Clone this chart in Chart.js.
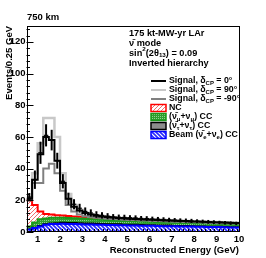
<!DOCTYPE html>
<html>
<head>
<meta charset="utf-8">
<script src="https://cdn.jsdelivr.net/npm/chart.js@4.4.0/dist/chart.umd.min.js"></script>
<style>
  html, body { margin: 0; padding: 0; background: #fff; }
  #wrap { width: 266px; height: 258px; }
</style>
</head>
<body>
<div id="wrap"><canvas id="chart" width="266" height="258"></canvas></div>
<script>
// bin edges, GeV (0.25 GeV bins)
var binEdges = [0.5, 0.75, 1, 1.25, 1.5, 1.75, 2, 2.25, 2.5, 2.75, 3, 3.25, 3.5, 3.75, 4, 4.25, 4.5, 4.75,
  5, 5.25, 5.5, 5.75, 6, 6.25, 6.5, 6.75, 7, 7.25, 7.5, 7.75, 8, 8.25, 8.5, 8.75, 9, 9.25, 9.5, 9.75, 10];
var xTicks = [1, 2, 3, 4, 5, 6, 7, 8, 9, 10];
var yTicks = [0, 20, 40, 60, 80, 100, 120];

// signal + background totals
var sigCp0 = [21, 33, 49, 60, 58, 45, 31, 21, 16, 13.5, 12, 11, 10.3, 9.8, 9.4, 9.1, 8.8, 8.6, 8.4, 8.2,
  8.0, 7.9, 7.7, 7.6, 7.4, 7.3, 7.1, 7.0, 6.9, 6.7, 6.6, 6.5, 6.3, 6.2, 6.1, 6.0, 5.8, 5.7];
var sigCp90 = [22, 37, 56, 72, 72, 60, 37, 24, 17, 14, 12.2, 11.2, 10.5, 10, 9.6, 9.2, 8.9, 8.7, 8.5, 8.3,
  8.1, 8.0, 7.8, 7.7, 7.5, 7.4, 7.2, 7.1, 7.0, 6.8, 6.7, 6.6, 6.4, 6.3, 6.2, 6.1, 5.9, 5.8];
var sigCpM90 = [20, 31, 31, 40, 43, 37, 26, 17, 13, 11, 10, 9.5, 9, 8.7, 8.4, 8.2, 8.0, 7.8, 7.6, 7.5,
  7.3, 7.2, 7.0, 6.9, 6.8, 6.7, 6.5, 6.4, 6.3, 6.2, 6.1, 6.0, 5.8, 5.7, 5.6, 5.5, 5.4, 5.3];

// fake data for delta_CP = 0, with errors
var dataPts = [22, 33, 50, 61, 58, 45, 32, 21, 17.5, 15, 13, 12, 11, 10.5, 10, 9.5, 9.3, 9.2, 9, 8.9,
  8.6, 8.5, 8.2, 8.1, 7.9, 7.6, 7.5, 7.3, 7.2, 7, 6.8, 6.6, 6.4, 6.2, 6, 5.8, 5.6, 5.4];
var dataErr = [2.6, 5.8, 7, 7, 6.5, 5, 4.5, 3.8, 3.2, 2.8, 2.5, 2.3, 2.1, 2, 1.9, 1.8, 1.7, 1.7, 1.6, 1.6,
  1.5, 1.5, 1.5, 1.4, 1.4, 1.4, 1.3, 1.3, 1.3, 1.3, 1.2, 1.2, 1.2, 1.2, 1.1, 1.1, 1.1, 1.1];

// backgrounds (stacked)
var bkgBeam = [1.5, 2.5, 3.5, 4.5, 5, 5, 5.2, 5, 5, 4.9, 4.8, 4.7, 4.6, 4.5, 4.4, 4.4, 4.3, 4.2, 4.1, 4.1,
  4.0, 3.9, 3.9, 3.8, 3.7, 3.7, 3.6, 3.5, 3.5, 3.4, 3.3, 3.3, 3.2, 3.1, 3.1, 3.0, 2.9, 2.9];
var bkgTau = [0.2, 0.3, 0.4, 0.5, 0.6, 0.7, 0.8, 0.8, 0.8, 0.8, 0.8, 0.8, 0.8, 0.7, 0.7, 0.7, 0.7, 0.6, 0.6, 0.6,
  0.6, 0.5, 0.5, 0.5, 0.5, 0.5, 0.4, 0.4, 0.4, 0.4, 0.4, 0.4, 0.3, 0.3, 0.3, 0.3, 0.3, 0.3];
var bkgNumu = [1.8, 3.2, 4.1, 3.5, 3.4, 3.3, 3.0, 3.0, 2.8, 2.8, 2.7, 2.6, 2.5, 2.5, 2.4, 2.2, 2.1, 2.2, 2.2, 2.1,
  2.0, 2.1, 2.0, 2.0, 2.0, 1.9, 2.0, 2.0, 1.9, 1.9, 1.9, 1.8, 1.9, 1.9, 1.8, 1.8, 1.8, 1.7];
var bkgNC = [16.5, 11, 5, 2.8, 2, 1.6, 1.4, 1.3, 1.2, 1.1, 1.0, 0.9, 0.9, 0.8, 0.8, 0.8, 0.7, 0.7, 0.7, 0.7,
  0.6, 0.6, 0.6, 0.6, 0.6, 0.5, 0.5, 0.5, 0.5, 0.5, 0.5, 0.5, 0.4, 0.4, 0.4, 0.4, 0.4, 0.4];

var FONT = '"Liberation Sans", Arial, Helvetica, sans-serif';
var NUBAR = '\u03BD\u0304';

function addUp(a, b) { return a.map(function (v, i) { return v + b[i]; }); }
var topBeam = bkgBeam.slice();
var topTau = addUp(topBeam, bkgTau);
var topNumu = addUp(topTau, bkgNumu);
var topNC = addUp(topNumu, bkgNC);

function steps(vals) {
  var pts = vals.map(function (v, i) { return { x: binEdges[i], y: v }; });
  pts.push({ x: binEdges[binEdges.length - 1], y: vals[vals.length - 1] });
  return pts;
}
function centers(vals) {
  return vals.map(function (v, i) { return { x: (binEdges[i] + binEdges[i + 1]) / 2, y: v }; });
}

function hatch(color, bg, dir, gap, lw) {
  var c = document.createElement('canvas');
  c.width = c.height = gap;
  var g = c.getContext('2d');
  if (bg) { g.fillStyle = bg; g.fillRect(0, 0, gap, gap); }
  g.strokeStyle = color; g.lineWidth = lw;
  g.beginPath();
  if (dir > 0) {
    g.moveTo(0, gap); g.lineTo(gap, 0);
    g.moveTo(-1, 1); g.lineTo(1, -1);
    g.moveTo(gap - 1, gap + 1); g.lineTo(gap + 1, gap - 1);
  } else {
    g.moveTo(0, 0); g.lineTo(gap, gap);
    g.moveTo(gap - 1, -1); g.lineTo(gap + 1, 1);
    g.moveTo(-1, gap - 1); g.lineTo(1, gap + 1);
  }
  g.stroke();
  return g.createPattern(c, 'repeat');
}
function stipple() {
  var c = document.createElement('canvas');
  c.width = c.height = 2;
  var g = c.getContext('2d');
  g.fillStyle = '#2f9e2f'; g.fillRect(0, 0, 2, 2);
  g.fillStyle = '#8fd08f'; g.fillRect(0, 0, 1, 1);
  return g.createPattern(c, 'repeat');
}

var ctx = document.getElementById('chart').getContext('2d');
var ncFill = hatch('#f26d6d', '#ffffff', 1, 4, 1);
var beamFill = hatch('#2a2aff', '#ffffff', -1, 4, 1.6);
var numuFill = stipple();

function histLine(label, vals, color, width, fill, order) {
  return {
    label: label, data: steps(vals), stepped: 'before', borderColor: color, borderWidth: width,
    pointRadius: 0, fill: fill ? 'origin' : false, backgroundColor: fill || 'transparent', order: order
  };
}

// rich text: parts = [[text, 'n'|'sub'|'sup'], ...]
function rich(c, x, y, parts, size) {
  parts.forEach(function (p) {
    var s = p[1] === 'n' ? size : size * 0.68;
    var dy = p[1] === 'sub' ? size * 0.3 : (p[1] === 'sup' ? -size * 0.38 : 0);
    c.font = 'bold ' + s + 'px ' + FONT;
    c.fillText(p[0], x, y + dy);
    x += c.measureText(p[0]).width;
  });
}

var decorPlugin = {
  id: 'decor',
  afterDatasetsDraw: function (chart) {
    var c = chart.ctx, meta = chart.getDatasetMeta(0);
    var xs = chart.scales.x, ys = chart.scales.y;
    var hw = (xs.getPixelForValue(binEdges[1]) - xs.getPixelForValue(binEdges[0])) * 0.4;
    c.save();
    c.strokeStyle = '#000';
    meta.data.forEach(function (pt, i) {
      var yt = ys.getPixelForValue(dataPts[i] + dataErr[i]);
      var yb = ys.getPixelForValue(dataPts[i] - dataErr[i]);
      c.lineWidth = 2;
      c.beginPath(); c.moveTo(pt.x, yt); c.lineTo(pt.x, yb); c.stroke();
      c.lineWidth = 1.2;
      c.beginPath(); c.moveTo(pt.x - hw, pt.y); c.lineTo(pt.x + hw, pt.y); c.stroke();
    });
    c.restore();
  },
  afterDraw: function (chart) {
    var c = chart.ctx, a = chart.chartArea;
    var xs = chart.scales.x, ys = chart.scales.y;
    c.save();
    // frame
    c.strokeStyle = '#000'; c.lineWidth = 1;
    c.strokeRect(Math.round(a.left) + 0.5, Math.round(a.top) + 0.5,
      Math.round(a.right - a.left) - 1, Math.round(a.bottom - a.top) - 1);
    // inward ticks
    c.beginPath();
    for (var v = 0; v <= 130; v += 4) {
      var py = Math.round(ys.getPixelForValue(v)) + 0.5;
      var len = (v % 20 === 0) ? 7 : 3.5;
      c.moveTo(a.left, py); c.lineTo(a.left + len, py);
    }
    for (var k = 5; k <= 100; k += 2) {
      var xv = k / 10;
      var px = Math.round(xs.getPixelForValue(xv)) + 0.5;
      var l2 = (k % 10 === 0) ? 6 : 3;
      c.moveTo(px, a.bottom); c.lineTo(px, a.bottom - l2);
    }
    c.stroke();

    c.fillStyle = '#000';
    c.textBaseline = 'middle';
    c.textAlign = 'left';
    c.font = 'bold 9.5px ' + FONT;
    c.fillText('750 km', 27, 17);

    // axis titles
    c.font = 'bold 9.5px ' + FONT;
    c.textAlign = 'right';
    c.fillText('Reconstructed Energy (GeV)', a.right, 250);
    c.save();
    c.translate(9, a.top);
    c.rotate(-Math.PI / 2);
    c.fillText('Events/0.25 GeV', 0, 0);
    c.restore();

    // info block
    c.textAlign = 'left';
    var tx = 129, fs = 9.2;
    rich(c, tx, 33, [['175 kt-MW-yr LAr', 'n']], fs);
    rich(c, tx, 43, [[NUBAR + ' mode', 'n']], fs);
    rich(c, tx, 53, [['sin', 'n'], ['2', 'sup'], ['(2\u03B8', 'n'], ['13', 'sub'], [') = 0.09', 'n']], fs);
    rich(c, tx, 63, [['Inverted hierarchy', 'n']], fs);

    // legend
    var lx = 151, lw = 15, txl = 169, rows = [81, 90, 99, 108, 117, 126, 135];
    var lines = [['#000', '0\u00B0'], ['#c8c8c8', '90\u00B0'], ['#808080', '-90\u00B0']];
    lines.forEach(function (ln, i) {
      c.strokeStyle = ln[0]; c.lineWidth = 2;
      c.beginPath(); c.moveTo(lx, rows[i]); c.lineTo(lx + lw, rows[i]); c.stroke();
      c.fillStyle = '#000';
      rich(c, txl, rows[i], [['Signal, \u03B4', 'n'], ['CP', 'sub'], [' = ' + ln[1], 'n']], 8.8);
    });
    var boxes = [
      [ncFill, '#ff0000', [['NC', 'n']]],
      [numuFill, '#1a9a1a', [['(' + NUBAR, 'n'], ['\u03BC', 'sub'], ['+\u03BD', 'n'], ['\u03BC', 'sub'], [') CC', 'n']]],
      ['#8c8c8c', '#000', [['(' + NUBAR, 'n'], ['\u03C4', 'sub'], ['+\u03BD', 'n'], ['\u03C4', 'sub'], [') CC', 'n']]],
      [beamFill, '#0000ff', [['Beam (' + NUBAR, 'n'], ['e', 'sub'], ['+\u03BD', 'n'], ['e', 'sub'], [') CC', 'n']]]
    ];
    boxes.forEach(function (b, i) {
      var yy = rows[i + 3];
      c.fillStyle = b[0];
      c.fillRect(lx, yy - 3.5, lw, 7);
      c.strokeStyle = b[1]; c.lineWidth = 1.5;
      c.strokeRect(lx, yy - 3.5, lw, 7);
      c.fillStyle = '#000';
      rich(c, txl, yy, b[2], 8.8);
    });
    c.restore();
  }
};

var tickFont = { family: FONT, size: 9.5, weight: 'bold' };

new Chart(ctx, {
  type: 'line',
  data: {
    datasets: [
      { label: 'Data', data: centers(dataPts), showLine: false, pointRadius: 0, borderColor: '#000', order: 0 },
      histLine('Signal, dCP = 0', sigCp0, '#000000', 2, null, 1),
      histLine('Signal, dCP = -90', sigCpM90, '#808080', 2, null, 2),
      histLine('Signal, dCP = 90', sigCp90, '#c8c8c8', 2.5, null, 3),
      histLine('Beam CC', topBeam, '#0000ff', 2, beamFill, 4),
      histLine('tau CC', topTau, '#000000', 1.5, '#8c8c8c', 5),
      histLine('numu CC', topNumu, '#1a9a1a', 2, numuFill, 6),
      histLine('NC', topNC, '#ff0000', 2, ncFill, 7)
    ]
  },
  options: {
    responsive: false,
    animation: false,
    events: [],
    layout: { padding: { top: 26, right: 27, left: 0, bottom: 0 } },
    plugins: { legend: { display: false }, tooltip: { enabled: false } },
    scales: {
      x: {
        type: 'linear', min: 0.5, max: 10,
        afterBuildTicks: function (s) { s.ticks = xTicks.map(function (v) { return { value: v }; }); },
        afterFit: function (s) { s.height = 26; },
        grid: { display: false, drawTicks: false },
        border: { display: false },
        ticks: { font: tickFont, color: '#000', padding: 2, maxRotation: 0, autoSkip: false }
      },
      y: {
        type: 'linear', min: 0, max: 130,
        afterBuildTicks: function (s) { s.ticks = yTicks.map(function (v) { return { value: v }; }); },
        afterFit: function (s) { s.width = 26.5; },
        grid: { display: false, drawTicks: false },
        border: { display: false },
        ticks: { font: tickFont, color: '#000', padding: 1, autoSkip: false }
      }
    }
  },
  plugins: [decorPlugin]
});
</script>
</body>
</html>
